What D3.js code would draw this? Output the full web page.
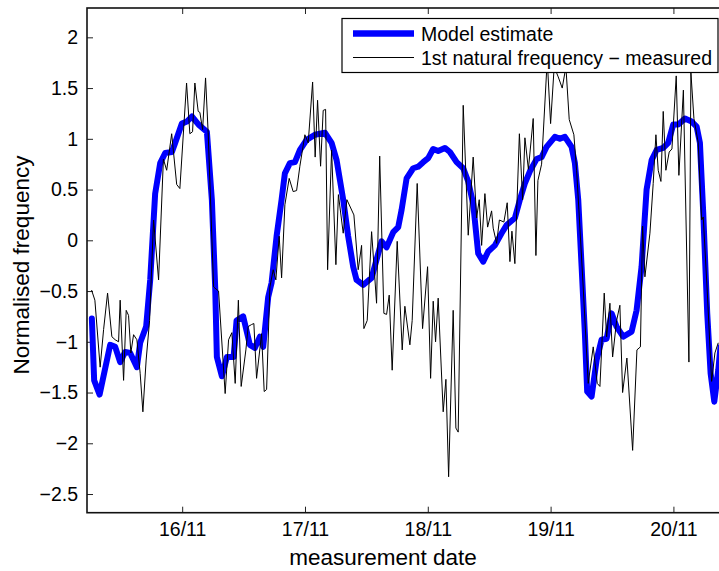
<!DOCTYPE html>
<html>
<head>
<meta charset="utf-8">
<script src="https://cdn.jsdelivr.net/npm/d3@7"></script>
<style>
body { margin: 0; background: #fff; }
svg { display: block; font-family: "Liberation Sans", Arial, sans-serif; }
</style>
</head>
<body>
<div id="chart"></div>
<script>
// x values are hours counted from 15/11 00:00
var tickHours = [24, 48, 72, 96, 120];
var tickDates = ["16/11", "17/11", "18/11", "19/11", "20/11"];
var yTicks = [-2.5, -2, -1.5, -1, -0.5, 0, 0.5, 1, 1.5, 2];
var seriesNames = ["Model estimate", "1st natural frequency \u2212 measured"];

var modelHours = [6.35, 6.8, 7.86, 9.93, 10.91, 11.88, 12.86, 13.84, 15.15, 15.79, 16.96, 17.75, 18.72, 19.7, 20.68, 21.99, 22.63, 23.94, 24.92, 25.9,
  27.21, 28.83, 29.8, 30.45, 30.78, 31.76, 32.74, 34.05, 34.63, 35.92, 37.23, 38.21, 39.19, 39.83, 40.81, 41.47, 42.45, 43.43, 44.07, 45.05,
  46.03, 47.01, 48.31, 49.94, 51.89, 53.2, 54.18, 55.47, 56.44, 57.42, 58.08, 59.37, 61.02, 61.99, 62.97, 63.95, 65.24, 66.22, 66.88, 67.86,
  69.15, 70.12, 71.1, 72.08, 73.05, 74.03, 75.34, 76.32, 77.63, 78.92, 79.9, 80.87, 81.85, 82.83, 83.8, 85.11, 86.42, 87.4, 89.02, 90.0,
  90.97, 91.95, 93.26, 94.24, 95.21, 96.84, 97.81, 98.79, 100.1, 100.75, 101.4, 102.06, 102.7, 103.15, 104.01, 104.99, 105.96, 106.94, 107.92, 108.89,
  110.19, 111.83, 112.8, 113.78, 114.76, 115.74, 116.72, 118.01, 118.98, 119.96, 120.94, 122.25, 123.56, 124.54, 125.18, 125.83, 126.61, 127.27, 127.99, 128.76, 129.2];
var modelValues = [-0.77, -1.38, -1.52, -1.03, -1.05, -1.2, -1.1, -1.11, -1.25, -1.01, -0.85, -0.39, 0.46, 0.76, 0.86, 0.87, 0.96, 1.15, 1.17, 1.22,
  1.14, 1.07, 0.4, -0.46, -1.15, -1.34, -1.15, -1.15, -0.79, -0.75, -1.03, -1.06, -0.95, -1.05, -0.56, -0.42, 0.04, 0.4, 0.66, 0.76,
  0.77, 0.89, 0.99, 1.04, 1.06, 0.96, 0.79, 0.4, 0.04, -0.26, -0.39, -0.44, -0.37, -0.19, -0.01, -0.07, 0.08, 0.13, 0.3, 0.61,
  0.71, 0.725, 0.77, 0.81, 0.9, 0.88, 0.91, 0.87, 0.77, 0.71, 0.58, 0.36, -0.13, -0.21, -0.11, -0.05, 0.07, 0.15, 0.22, 0.4,
  0.56, 0.68, 0.8, 0.82, 0.92, 1.02, 1.0, 1.02, 0.92, 0.76, 0.4, -0.26, -0.92, -1.49, -1.54, -1.18, -0.98, -0.97, -0.72, -0.85,
  -0.95, -0.9, -0.69, -0.26, 0.5, 0.79, 0.89, 0.91, 0.96, 1.14, 1.14, 1.2, 1.17, 1.12, 0.96, 0.27, -0.72, -1.31, -1.59, -1.28, -1.05];

var measuredHours = [6.29, 6.94, 7.97, 8.64, 9.42, 10.26, 10.91, 11.57, 11.88, 12.55, 13.06, 13.52, 13.97, 14.5, 15.15, 15.79, 16.32, 16.96, 17.63, 18.41,
  19.39, 20.33, 20.97, 21.95, 22.93, 23.55, 24.86, 25.5, 26.03, 26.48, 27.13, 27.46, 27.99, 28.57, 29.08, 30.14, 31.11, 32.4, 33.07, 33.71,
  34.36, 34.98, 35.53, 36.45, 36.9, 37.56, 38.01, 38.54, 39.52, 40.03, 40.5, 41.14, 41.79, 42.31, 42.96, 43.43, 44.07, 44.91, 45.69, 46.36,
  47.0, 47.98, 48.63, 49.49, 49.99, 50.46, 51.05, 51.56, 52.03, 52.42, 53.2, 54.04, 54.53, 55.47, 56.19, 57.56, 58.4, 59.06, 59.51, 60.16,
  61.02, 61.99, 62.6, 63.42, 63.95, 64.46, 65.04, 66.02, 67.0, 67.52, 68.5, 68.95, 69.93, 70.98, 71.96, 72.55, 73.06, 73.52, 74.03, 75.01,
  75.54, 76.07, 76.96, 77.49, 77.94, 78.92, 79.9, 80.87, 81.54, 82.05, 82.52, 83.16, 83.69, 84.47, 84.78, 85.45, 85.99, 86.87, 87.52, 88.05,
  88.44, 89.02, 89.9, 90.53, 90.98, 91.66, 92.6, 93.13, 93.52, 94.24, 95.34, 96.0, 96.7, 97.49, 98.27, 98.99, 99.64, 100.55, 101.08, 101.53,
  102.37, 103.35, 104.33, 105.11, 105.64, 106.48, 106.95, 107.59, 108.12, 108.9, 109.54, 110.07, 110.91, 112.03, 112.87, 113.55, 113.98, 114.43, 115.41, 116.05,
  116.58, 117.03, 117.56, 118.01, 118.53, 119.18, 119.71, 120.55, 121.07, 121.95, 123.03, 123.42, 124.01, 124.85, 125.51, 125.83, 126.61, 127.47, 128.11, 128.76];
var measuredValues = [-0.49, -0.59, -1.25, -0.88, -0.52, -0.95, -0.98, -1.0, -0.59, -1.38, -0.69, -0.74, -1.11, -0.93, -0.98, -1.31, -1.69, -1.18, -0.79, 0.2,
  -0.39, 0.8, 0.69, 1.05, 0.55, 0.51, 1.55, 1.05, 1.07, 1.55, 1.27, 1.26, 1.09, 1.6, 1.06, -0.46, -0.5, -1.51, -0.98, -0.91,
  -1.41, -0.59, -1.44, -1.08, -0.85, -0.83, -0.82, -1.36, -0.92, -1.49, -1.47, -0.46, -0.29, -0.39, 0.04, -0.37, 0.35, 0.61, 0.48, 0.49,
  0.73, 1.04, 0.96, 1.56, 0.82, 1.38, 0.73, 1.28, 1.29, -0.29, 0.89, -0.24, 0.45, 0.07, 0.4, 0.25, -0.29, -0.05, -0.87, -0.79,
  0.085, -0.62, 0.83, -0.72, -0.73, -0.54, -1.28, -0.01, -1.08, -0.65, -1.03, -0.79, 0.56, -0.87, -0.26, -1.36, -0.6, -1.0, -0.57, -1.69,
  -1.37, -2.33, -0.69, -1.85, -1.89, 1.33, 0.05, 0.82, 0.22, 0.4, -0.05, 0.46, 0.13, 0.29, 0.12, -0.03, 0.2, 0.18, 0.37, -0.21,
  0.09, -0.23, 1.05, 0.4, 1.01, 0.7, 1.2, -0.15, 0.59, 0.75, 1.78, 1.15, 1.71, 1.61, 1.5, 1.71, 1.19, 1.04, 0.69, 0.3,
  -0.46, -1.41, -1.05, -1.41, -1.44, -0.52, -0.95, -0.62, -1.15, -0.79, -0.64, -1.5, -1.16, -2.07, -1.08, -1.05, 0.14, -0.36, 0.07, 0.56,
  1.04, 0.69, 0.58, 1.27, 0.69, 0.87, 0.9, 1.62, 0.64, 1.48, -1.2, 1.65, 1.2, 0.96, 0.2, 0.23, -0.5, -1.39, -1.11, -1.01];

var svgWidth = 719;
var svgHeight = 571;

var margin = {
  top: 8,
  right: -2,
  bottom: 58.3,
  left: 87
};

var width = svgWidth - margin.left - margin.right;
var height = svgHeight - margin.top - margin.bottom;

var svg = d3.select("#chart")
  .append("svg")
  .attr("width", svgWidth)
  .attr("height", svgHeight);

var chartGroup = svg.append("g")
  .attr("transform", `translate(${margin.left}, ${margin.top})`);

var xScale = d3.scaleLinear()
  .domain([5.4, 129.3])
  .range([0, width]);

var yScale = d3.scaleLinear()
  .domain([-2.684, 2.289])
  .range([height, 0]);

var fmtY = d => (d < 0 ? "\u2212" : "") + Math.abs(d);

var bottomAxis = d3.axisBottom(xScale)
  .tickValues(tickHours)
  .tickFormat((d, i) => tickDates[i])
  .tickSizeInner(-6)
  .tickSizeOuter(0)
  .tickPadding(9);

var topAxis = d3.axisTop(xScale)
  .tickValues(tickHours)
  .tickFormat("")
  .tickSizeInner(-6)
  .tickSizeOuter(0);

var leftAxis = d3.axisLeft(yScale)
  .tickValues(yTicks)
  .tickFormat(fmtY)
  .tickSizeInner(-6)
  .tickSizeOuter(0)
  .tickPadding(9);

var xAxisG = chartGroup.append("g")
  .attr("transform", `translate(0, ${height})`)
  .call(bottomAxis);

var topAxisG = chartGroup.append("g")
  .call(topAxis);

var yAxisG = chartGroup.append("g")
  .call(leftAxis);

[xAxisG, topAxisG, yAxisG].forEach(function(g) {
  g.select(".domain").remove();
  g.selectAll("text")
    .attr("font-family", "Liberation Sans, Arial, sans-serif")
    .attr("font-size", 19.5)
    .attr("fill", "#000");
  g.selectAll(".tick line").attr("stroke", "#222");
});

chartGroup.append("clipPath")
  .attr("id", "plotClip")
  .append("rect")
  .attr("width", width)
  .attr("height", height);

var lineModel = d3.line()
  .x((d, i) => xScale(modelHours[i]))
  .y(d => yScale(d));

var lineMeasured = d3.line()
  .x((d, i) => xScale(measuredHours[i]))
  .y(d => yScale(d));

var plotArea = chartGroup.append("g")
  .attr("clip-path", "url(#plotClip)");

plotArea.append("path")
  .datum(modelValues)
  .attr("d", lineModel)
  .attr("fill", "none")
  .attr("stroke", "#0000ff")
  .attr("stroke-width", 6)
  .attr("stroke-linejoin", "round")
  .attr("stroke-linecap", "round");

plotArea.append("path")
  .datum(measuredValues)
  .attr("d", lineMeasured)
  .attr("fill", "none")
  .attr("stroke", "#000")
  .attr("stroke-width", 1)
  .attr("stroke-linejoin", "miter");

// axes box (right side falls outside the picture)
chartGroup.append("rect")
  .attr("width", width)
  .attr("height", height)
  .attr("fill", "none")
  .attr("stroke", "#111")
  .attr("stroke-width", 1.6);

// legend
var legend = svg.append("g")
  .attr("transform", "translate(342, 18.5)");

legend.append("rect")
  .attr("width", 376)
  .attr("height", 54)
  .attr("fill", "#fff")
  .attr("stroke", "#000")
  .attr("stroke-width", 1.2);

legend.append("line")
  .attr("x1", 11).attr("x2", 72)
  .attr("y1", 15).attr("y2", 15)
  .attr("stroke", "#0000ff")
  .attr("stroke-width", 6.5);

legend.append("line")
  .attr("x1", 11).attr("x2", 72)
  .attr("y1", 39).attr("y2", 39)
  .attr("stroke", "#000")
  .attr("stroke-width", 1);

legend.selectAll("text.item")
  .data(seriesNames)
  .enter()
  .append("text")
  .attr("class", "item")
  .attr("x", 79)
  .attr("y", (d, i) => 22 + i * 24)
  .attr("font-size", 19.5)
  .text(d => d);

svg.append("text")
  .attr("x", 383)
  .attr("y", 565)
  .attr("text-anchor", "middle")
  .attr("font-size", 22.5)
  .text("measurement date");

svg.append("text")
  .attr("transform", "translate(29, 265) rotate(-90)")
  .attr("text-anchor", "middle")
  .attr("font-size", 22.5)
  .text("Normalised frequency");
</script>
</body>
</html>
